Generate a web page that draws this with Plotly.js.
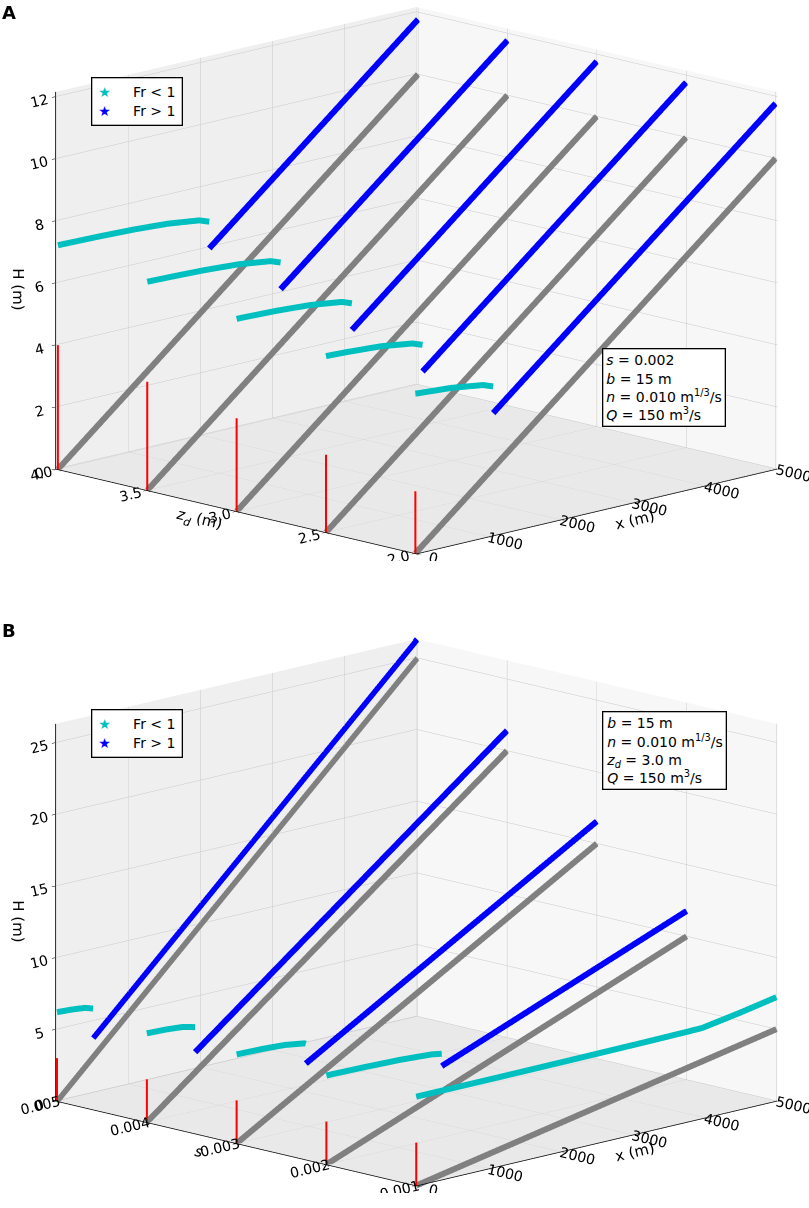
<!DOCTYPE html>
<html>
<head>
<meta charset="utf-8">
<script src="https://cdn.plot.ly/plotly-3.0.1.min.js"></script>
<style>
  html, body { margin: 0; padding: 0; background: #ffffff; }
  #chart { width: 809px; height: 1208px; }
</style>
</head>
<body>
<div id="chart"></div>
<script>
// ---------------- Panel A : varying weir height z_d (s = 0.002) ----------------
const zdValues = [4.0, 3.5, 3.0, 2.5, 2.0];
const weirHeightA = [4.0, 3.5, 3.0, 2.5, 2.0];
const bedEndA = [10, 10, 10, 10, 10];          // H of bed at x = 5000
const jumpXA = [2100, 1850, 1600, 1340, 1080];  // start of supercritical reach
const blueStartHA = [5.97, 5.47, 4.97, 4.45, 3.93];
const blueEndHA = [11.77, 11.77, 11.77, 11.77, 11.77];
const cyanXA = [
  [0, 570, 1060, 1530, 1960, 2100],
  [0, 320, 800, 1270, 1710, 1850],
  [0, 60, 550, 1020, 1460, 1600],
  [0, 290, 760, 1200, 1340],
  [0, 30, 500, 940, 1080]
];
const cyanHA = [
  [7.22, 7.19, 7.15, 7.08, 6.95, 6.83],
  [6.72, 6.70, 6.66, 6.59, 6.45, 6.33],
  [6.20, 6.20, 6.16, 6.09, 5.95, 5.83],
  [5.68, 5.65, 5.58, 5.43, 5.31],
  [5.15, 5.14, 5.06, 4.91, 4.79]
];

// ---------------- Panel B : varying slope s (z_d = 3.0 m) ----------------
const sValues = [0.005, 0.004, 0.003, 0.002, 0.001];
const weirHeightB = [3.0, 3.0, 3.0, 3.0, 3.0];
const bedEndB = [25, 20, 15, 10, 5];
const jumpXB = [500, 670, 960, 1600, null];
const blueStartHB = [3.81, 4.09, 4.43, 4.97, null];
const blueEndHB = [26.31, 21.41, 16.55, 11.77, null];
const cyanXB = [
  [0, 210, 390, 500],
  [0, 270, 500, 670],
  [0, 360, 670, 940, 960],
  [0, 60, 550, 1020, 1460, 1600],
  [0, 1130, 2150, 3190, 3730, 3970, 4500, 5000]
];
const cyanHB = [
  [6.20, 6.14, 6.04, 5.86],
  [6.20, 6.15, 6.05, 5.84],
  [6.20, 6.16, 6.07, 5.86, 5.81],
  [6.20, 6.20, 6.16, 6.09, 5.95, 5.83],
  [6.20, 6.20, 6.22, 6.25, 6.28, 6.30, 6.75, 7.23]
];

const xTicks = [0, 1000, 2000, 3000, 4000, 5000];
const zdTicks = [2.0, 2.5, 3.0, 3.5, 4.0];
const zdTickText = ['2.0', '2.5', '3.0', '3.5', '4.0'];
const sTicks = [0.001, 0.002, 0.003, 0.004, 0.005];
const sTickText = ['0.001', '0.002', '0.003', '0.004', '0.005'];
const hTicksA = [0, 2, 4, 6, 8, 10, 12];
const hTicksB = [0, 5, 10, 15, 20, 25];

const GRAY = '#808080', BLUE = '#0000ff', CYAN = '#00bfbf', RED = '#ff0000';

function buildTraces(scene, params, weir, bedEnd, jumpX, bStart, bEnd, cX, cH) {
  const tr = [];
  params.forEach((p, i) => {
    tr.push({type: 'scatter3d', mode: 'lines', scene: scene, hoverinfo: 'skip', showlegend: false,
      x: [0, 5000], y: [p, p], z: [0, bedEnd[i]], line: {color: GRAY, width: 12}});
    tr.push({type: 'scatter3d', mode: 'lines', scene: scene, hoverinfo: 'skip', showlegend: false,
      x: [0, 0], y: [p, p], z: [0, weir[i]], line: {color: RED, width: 4}});
    tr.push({type: 'scatter3d', mode: 'lines', scene: scene, hoverinfo: 'skip', showlegend: false,
      x: cX[i], y: cX[i].map(() => p), z: cH[i], line: {color: CYAN, width: 12}});
    if (jumpX[i] !== null) {
      tr.push({type: 'scatter3d', mode: 'lines', scene: scene, hoverinfo: 'skip', showlegend: false,
        x: [jumpX[i], 5000], y: [p, p], z: [bStart[i], bEnd[i]], line: {color: BLUE, width: 12}});
    }
  });
  return tr;
}

const data = [].concat(
  buildTraces('scene', zdValues, weirHeightA, bedEndA, jumpXA, blueStartHA, blueEndHA, cyanXA, cyanHA),
  buildTraces('scene2', sValues, weirHeightB, bedEndB, jumpXB, blueStartHB, blueEndHB, cyanXB, cyanHB)
);

const FONT = 'DejaVu Sans, Arial, sans-serif';
function axisStyle(extra) {
  return Object.assign({
    showbackground: true,
    gridcolor: '#c8c8c8', gridwidth: 1,
    showline: true, linecolor: '#000000', linewidth: 1.5,
    ticks: 'outside', tickcolor: '#000000', ticklen: 5,
    zeroline: false, showspikes: false,
    tickfont: {family: FONT, size: 13, color: '#000'},
    autorange: false
  }, extra);
}

const camera = {eye: {x: -1.33, y: -1.27, z: 0.445}, center: {x: -0.03, y: 0.03, z: 0}, up: {x: 0, y: 0, z: 1},
  projection: {type: 'orthographic'}};

function sceneLayout(domainY, yAx, hRange, hTicks) {
  return {
    domain: {x: [0, 1], y: domainY},
    aspectmode: 'manual',
    aspectratio: {x: 1.82, y: 1.82, z: 1.383},
    camera: camera,
    xaxis: axisStyle({range: [-10, 5000], tickvals: xTicks, backgroundcolor: '#f7f7f7',
      title: {text: 'x (m)', font: {family: FONT, size: 15, color: '#000'}}}),
    yaxis: axisStyle(Object.assign({backgroundcolor: '#efefef'}, yAx)),
    zaxis: axisStyle({range: hRange, tickvals: hTicks, backgroundcolor: '#e9e9e9',
      title: {text: 'H (m)', font: {family: FONT, size: 15, color: '#000'}}})
  };
}

function paramBox(x, y, text) {
  return {xref: 'paper', yref: 'paper', x: x, y: y, xanchor: 'center', yanchor: 'middle',
    showarrow: false, align: 'left', text: text,
    font: {family: FONT, size: 14, color: '#000'},
    bgcolor: '#ffffff', bordercolor: '#000000', borderwidth: 1.3, borderpad: 3};
}
const legendText = '<span style="color:' + CYAN + '">★</span>     Fr &lt; 1<br><span style="color:' + BLUE + '">★</span>     Fr &gt; 1';

const layout = {
  width: 809, height: 1208,
  margin: {l: 0, r: 0, t: 0, b: 0},
  paper_bgcolor: '#ffffff',
  showlegend: false,
  font: {family: FONT, color: '#000'},
  scene: sceneLayout([0.536, 1.0],
    {range: [1.99, 4.01], tickvals: zdTicks, ticktext: zdTickText,
     title: {text: '<i>z<sub>d</sub></i> (m)', font: {family: FONT, size: 15, color: '#000'}}},
    [0, 12.15], hTicksA),
  scene2: sceneLayout([0.013, 0.477],
    {range: [0.00099, 0.00501], tickvals: sTicks, ticktext: sTickText,
     title: {text: '<i>s</i>', font: {family: FONT, size: 15, color: '#000'}}},
    [0, 26.3], hTicksB),
  annotations: [
    {xref: 'paper', yref: 'paper', x: 0.0, y: 1.0, xanchor: 'left', yanchor: 'top', showarrow: false,
     text: '<b>A</b>', font: {family: FONT, size: 18, color: '#000'}},
    {xref: 'paper', yref: 'paper', x: 0.0, y: 0.488, xanchor: 'left', yanchor: 'top', showarrow: false,
     text: '<b>B</b>', font: {family: FONT, size: 18, color: '#000'}},
    {xref: 'paper', yref: 'paper', x: 0.169, y: 0.916, xanchor: 'center', yanchor: 'middle', showarrow: false,
     align: 'left', text: legendText, font: {family: FONT, size: 14, color: '#000'},
     bgcolor: '#ffffff', bordercolor: '#000000', borderwidth: 1.3, borderpad: 6},
    {xref: 'paper', yref: 'paper', x: 0.169, y: 0.393, xanchor: 'center', yanchor: 'middle', showarrow: false,
     align: 'left', text: legendText, font: {family: FONT, size: 14, color: '#000'},
     bgcolor: '#ffffff', bordercolor: '#000000', borderwidth: 1.3, borderpad: 6},
    paramBox(0.821, 0.679, '<i>s</i> = 0.002<br><i>b</i> = 15 m<br><i>n</i> = 0.010 m<sup>1/3</sup>/s<br><i>Q</i> = 150 m<sup>3</sup>/s'),
    paramBox(0.821, 0.379, '<i>b</i> = 15 m<br><i>n</i> = 0.010 m<sup>1/3</sup>/s<br><i>z<sub>d</sub></i> = 3.0 m<br><i>Q</i> = 150 m<sup>3</sup>/s')
  ]
};

Plotly.newPlot('chart', data, layout, {displayModeBar: false});
</script>
</body>
</html>
